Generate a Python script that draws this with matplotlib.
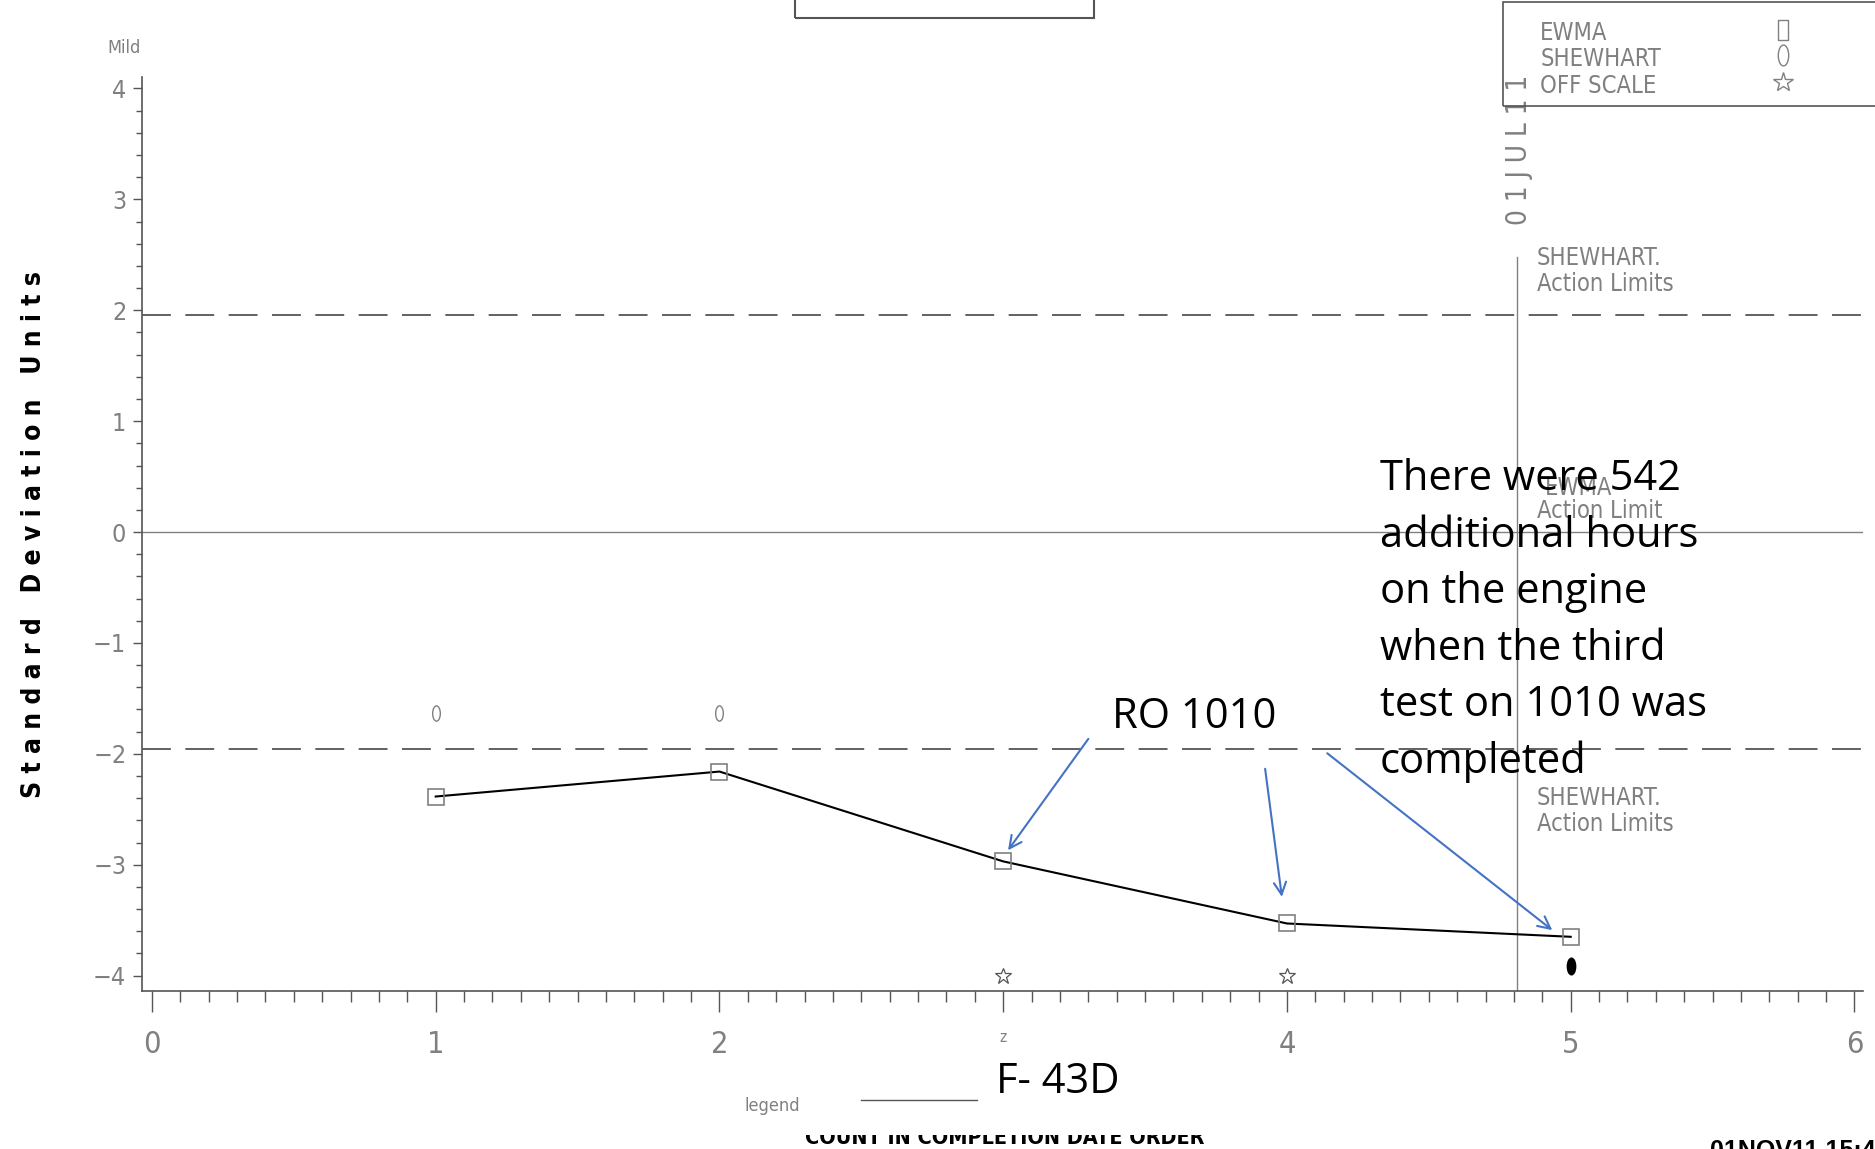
import matplotlib
matplotlib.use("Agg")
import matplotlib.pyplot as plt
from matplotlib.path import Path
from matplotlib.transforms import Affine2D
from matplotlib.patches import Rectangle
from matplotlib.lines import Line2D
from matplotlib.ticker import MultipleLocator

# data
count = [1, 2, 3, 4, 5]
ewma = [-2.385, -2.16, -2.97, -3.53, -3.65]
shew_x = [1, 2]
shew_y = [-1.63, -1.63]
offscale_x = [3, 4]
offscale_y = [-4.0, -4.0]
last_x = [5]
last_y = [-3.91]
action_limit = 1.96
event_x = 4.81
xticks = [0, 1, 2, 3, 4, 5, 6]
xtick_labels = ['0', '1', '2', 'z', '4', '5', '6']
yticks = [-4, -3, -2, -1, 0, 1, 2, 3, 4]

GRAY = '#808080'
DARK = '#555555'
BLUE = '#4472C4'
NARROW = ['Liberation Sans Narrow', 'DejaVu Sans']
CALIBRI = ['Open Sans', 'DejaVu Sans']
COND = 'condensed'

oval = Path.unit_circle().transformed(Affine2D().scale(0.5, 1.0))
tall_rect = Path([(-0.5, -1), (0.5, -1), (0.5, 1), (-0.5, 1), (-0.5, -1)],
                 [Path.MOVETO, Path.LINETO, Path.LINETO, Path.LINETO, Path.CLOSEPOLY])

fig = plt.figure(figsize=(18.75, 11.49), dpi=100)
ax = fig.add_axes([0.0759, 0.1374, 0.9177, 0.796])
ax.set_xlim(-0.034, 6.03)
ax.set_ylim(-4.14, 4.108)

for s in ['top', 'right']:
    ax.spines[s].set_visible(False)
for s in ['left', 'bottom']:
    ax.spines[s].set_color(DARK)
    ax.spines[s].set_linewidth(1.2)

ax.set_xticks(xticks)
ax.set_xticklabels(xtick_labels, family=NARROW, fontsize=22, color=GRAY, fontstretch=COND)
ax.get_xticklabels()[3].set_fontsize(11)
ax.set_yticks(yticks)
ax.set_yticklabels([str(v).replace('-', '\u2212') for v in yticks], family=NARROW, fontsize=18,
                   color=GRAY, fontstretch=COND)
ax.xaxis.set_minor_locator(MultipleLocator(0.1))
ax.yaxis.set_minor_locator(MultipleLocator(0.2))
ax.tick_params(axis='x', which='major', length=15, width=1, color=DARK, pad=13)
ax.tick_params(axis='x', which='minor', length=8, width=1, color=DARK)
ax.tick_params(axis='y', which='major', length=6.5, width=1, color=DARK, pad=5)
ax.tick_params(axis='y', which='minor', length=4.3, width=1, color=DARK)

# reference lines
ax.axhline(0, color=GRAY, lw=1)
ax.axhline(action_limit, color=DARK, lw=1.3, dashes=(16, 8))
ax.axhline(-action_limit, color=DARK, lw=1.3, dashes=(16, 8))
ax.plot([event_x, event_x], [2.48, -4.14], color=GRAY, lw=1)

# series
ax.plot(count, ewma, color='black', lw=1.5, marker='s', markersize=11,
        markerfacecolor='none', markeredgecolor=GRAY, markeredgewidth=1.2, zorder=3)
ax.plot(shew_x, shew_y, ls='none', marker=oval, markersize=11,
        markerfacecolor='none', markeredgecolor=GRAY, markeredgewidth=1)
ax.plot(offscale_x, offscale_y, ls='none', marker='*', markersize=12,
        markerfacecolor='none', markeredgecolor=DARK, markeredgewidth=0.9)
ax.plot(last_x, last_y, ls='none', marker=oval, markersize=12, color='black')

# gray SAS labels
lab = dict(family=NARROW, fontsize=17, color=GRAY, ha='left', va='center', fontstretch=COND)
ax.text(4.88, 2.47, 'SHEWHART.', **lab)
ax.text(4.88, 2.24, 'Action Limits', **lab)
ax.text(4.91, 0.40, 'EWMA', **lab)
ax.text(4.88, 0.19, 'Action Limit', **lab)
ax.text(4.88, -2.40, 'SHEWHART.', **lab)
ax.text(4.88, -2.63, 'Action Limits', **lab)
ax.text(4.817, 3.45, '0 1 J U L 1 1', family=NARROW, fontsize=20, color=GRAY,
        rotation=90, ha='center', va='center', fontstretch=COND)

# annotations
ax.text(3.382, -1.766, 'RO 1010', family=CALIBRI, fontsize=30, color='black', va='baseline')
ax.text(4.328, 0.665, 'There were 542\nadditional hours\non the engine\nwhen the third\ntest on 1010 was\ncompleted',
        family=CALIBRI, fontsize=30, color='black', va='top', ha='left', linespacing=1.45)
arr = dict(arrowstyle='->', color=BLUE, lw=1.5, mutation_scale=22, shrinkA=0, shrinkB=0)
ax.annotate('', xy=(3.017, -2.87), xytext=(3.30, -1.865), arrowprops=arr)
ax.annotate('', xy=(3.982, -3.29), xytext=(3.923, -2.135), arrowprops=arr)
ax.annotate('', xy=(4.935, -3.59), xytext=(4.142, -1.995), arrowprops=arr)

# y label
fig.text(0.018, 0.535, 'S t a n d a r d   D e v i a t i o n   U n i t s', family=NARROW,
         fontsize=19, fontweight='bold', rotation=90, ha='center', va='center', fontstretch=COND)
fig.text(0.0663, 0.9584, 'Mild', family=NARROW, fontsize=13, color=GRAY, ha='center', va='center',
         fontstretch=COND)

# legend box top right
fig.add_artist(Rectangle((0.8017, 0.9074), 0.25, 0.0906, transform=fig.transFigure,
                         fill=False, edgecolor=DARK, lw=1.2))
leg = dict(family=NARROW, fontsize=17, color=GRAY, ha='left', va='center', fontstretch=COND)
fig.text(0.8214, 0.9709, 'EWMA', **leg)
fig.text(0.8214, 0.9490, 'SHEWHART', **leg)
fig.text(0.8214, 0.9250, 'OFF SCALE', **leg)
for yy, mk in [(0.9740, tall_rect), (0.9520, oval), (0.9290, '*')]:
    fig.add_artist(Line2D([0.951], [yy], transform=fig.transFigure, marker=mk, markersize=15,
                          markerfacecolor='none', markeredgecolor=GRAY, markeredgewidth=1, ls='none'))

# box at top centre
fig.add_artist(Rectangle((0.4241, 0.9844), 0.1594, 0.05, transform=fig.transFigure,
                         fill=False, edgecolor=DARK, lw=1.5))

# bottom texts
fig.text(0.412, 0.0375, 'legend', family=NARROW, fontsize=13, color=GRAY, ha='center', va='center',
         fontstretch=COND)
fig.add_artist(Line2D([0.4592, 0.5210], [0.0427, 0.0427], transform=fig.transFigure, color=DARK, lw=1))
fig.text(0.5312, 0.0583, 'F- 43D', family=CALIBRI, fontsize=30, color='black', ha='left', va='center')
fig.text(0.5357, 0.0042, 'COUNT IN COMPLETION DATE ORDER', family=NARROW, fontsize=15.5,
         fontweight='bold', color='black', ha='center', va='baseline', fontstretch=COND)
fig.add_artist(Rectangle((0.42, 0.0125), 0.23, 0.017, transform=fig.transFigure,
                         facecolor='white', edgecolor='none', zorder=5))
fig.text(0.912, 0.0083, '01NOV11 15:43', family=['Liberation Sans', 'DejaVu Sans'], fontsize=18,
         fontweight='bold', color='black', ha='left', va='top')

fig.savefig('out.png', dpi=100)
